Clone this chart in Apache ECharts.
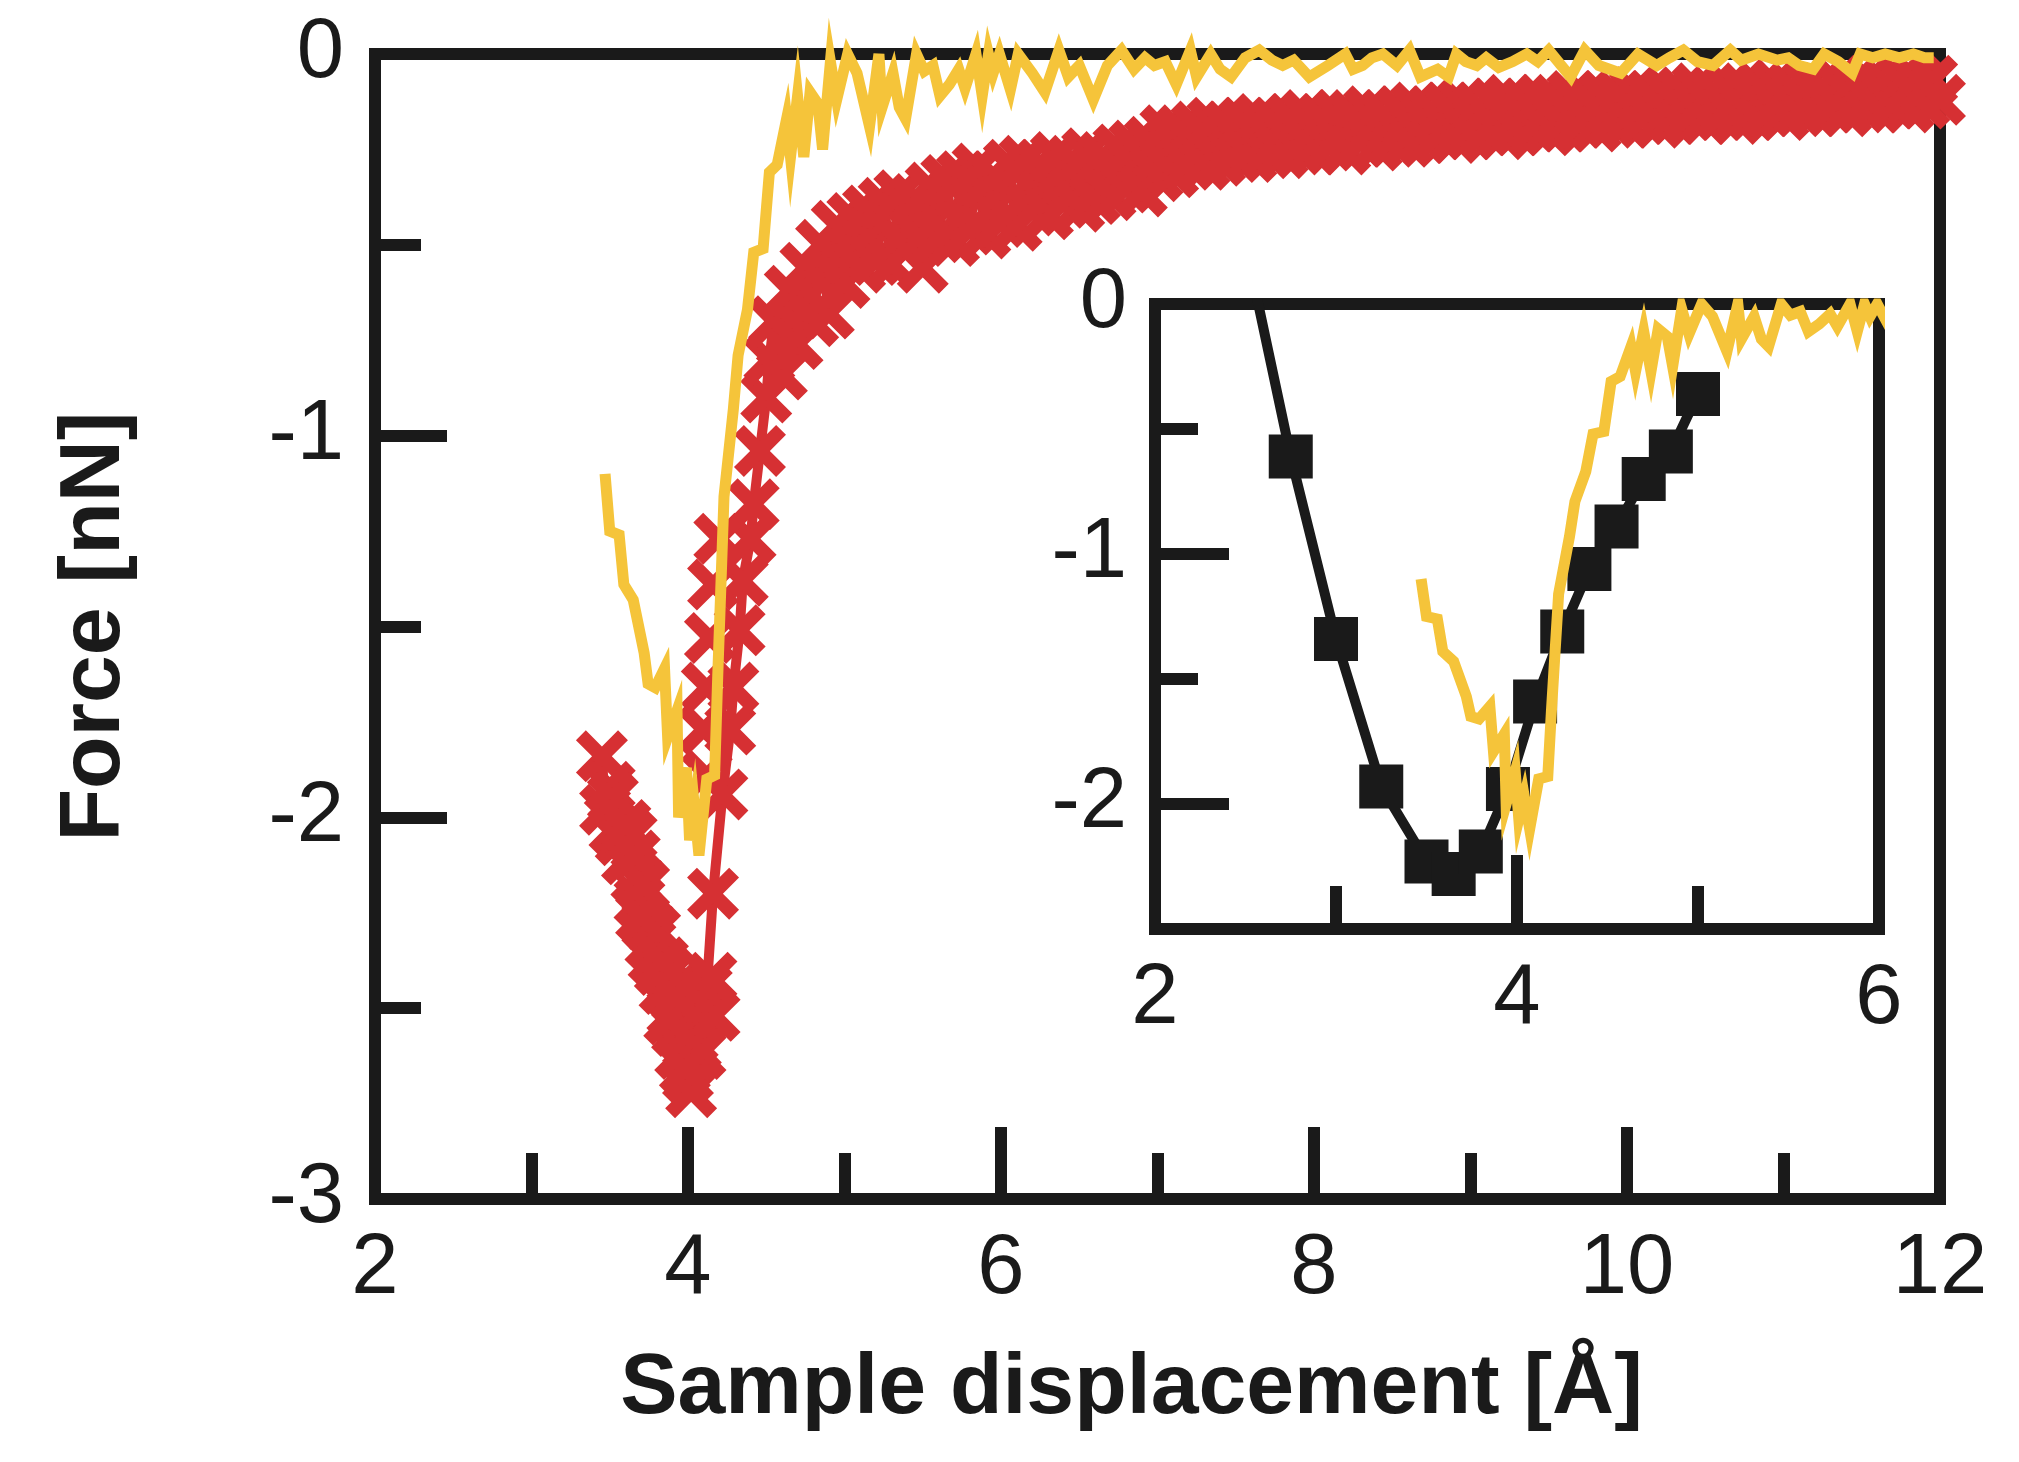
<!DOCTYPE html>
<html>
<head>
<meta charset="utf-8">
<script src="https://cdn.jsdelivr.net/npm/echarts@6/dist/echarts.min.js"></script>
<style>
  html, body { margin: 0; padding: 0; background: #fff; }
  #main { width: 2019px; height: 1462px; }
</style>
</head>
<body>
<div id="main"></div>
<script>
// yellow trace (shared by the main plot and the inset)
const yellow = [
  [3.47,-1.10],[3.50,-1.25],[3.56,-1.26],[3.59,-1.39],[3.65,-1.43],[3.72,-1.57],[3.745,-1.65],
  [3.79,-1.66],[3.85,-1.61],[3.87,-1.79],[3.93,-1.72],[3.94,-2.00],[3.99,-1.87],[4.01,-2.06],
  [4.04,-1.97],[4.07,-2.10],[4.12,-1.90],[4.17,-1.89],[4.19,-1.63],[4.23,-1.16],[4.29,-0.93],
  [4.32,-0.79],[4.38,-0.67],[4.42,-0.52],[4.48,-0.51],[4.52,-0.31],[4.57,-0.29],[4.63,-0.17],
  [4.655,-0.27],[4.70,-0.11],[4.74,-0.27],[4.78,-0.10],[4.83,-0.13],[4.86,-0.25],[4.91,-0.02],
  [4.95,-0.12],[5.02,0.0],[5.08,-0.05],[5.16,-0.19],[5.22,0.0],[5.24,-0.14],[5.31,-0.05],
  [5.35,-0.14],[5.39,-0.17],[5.46,0.0],[5.51,-0.045],[5.565,-0.03],[5.61,-0.11],[5.67,-0.08],
  [5.73,-0.04],[5.77,-0.09],[5.84,0.0],[5.88,-0.11],[5.92,0.0],[5.95,-0.05],[5.99,0.0],
  [6.06,-0.094],[6.11,0.0],[6.20,-0.05],[6.28,-0.10],[6.37,0.01],[6.43,-0.06],[6.50,-0.03],
  [6.59,-0.12],[6.68,-0.03],[6.77,0.01],[6.85,-0.04],[6.92,-0.01],[6.98,-0.03],[7.05,-0.02],
  [7.12,-0.08],[7.21,0.01],[7.25,-0.06],[7.34,0.0],[7.40,-0.04],[7.47,-0.06],[7.56,-0.01],
  [7.65,0.01],[7.73,-0.016],[7.80,-0.03],[7.87,-0.016],[7.97,-0.06],[8.09,-0.03],[8.20,0.0],
  [8.25,-0.04],[8.31,-0.03],[8.37,-0.01],[8.44,0.0],[8.53,-0.03],[8.61,0.01],[8.68,-0.06],
  [8.79,-0.04],[8.86,-0.06],[8.91,0.0],[8.97,-0.02],[9.04,-0.03],[9.10,-0.01],[9.18,-0.035],
  [9.27,-0.02],[9.36,0.0],[9.43,-0.02],[9.50,0.01],[9.64,-0.06],[9.73,0.01],[9.82,-0.03],
  [9.96,-0.05],[10.07,0.0],[10.19,-0.03],[10.27,-0.01],[10.36,0.01],[10.45,-0.02],[10.55,-0.03],
  [10.66,0.01],[10.73,-0.016],[10.84,0.0],[10.96,-0.016],[11.03,-0.01],[11.10,-0.03],
  [11.19,-0.04],[11.26,0.0],[11.35,-0.02],[11.44,-0.05],[11.49,0.0],[11.57,-0.01],[11.65,0.0],
  [11.74,-0.01],[11.83,0.0],[11.90,-0.01],[11.96,-0.01]
];

// red trace: descending cluster, steep rise, then the noisy tail
const redCurve = [
  [3.45,-1.84],[3.47,-1.98],[3.50,-1.92],[3.53,-2.03],[3.57,-2.06],[3.61,-2.11],[3.64,-2.05],
  [3.67,-2.16],[3.69,-2.22],[3.72,-2.18],[3.74,-2.28],[3.76,-2.33],[3.79,-2.30],[3.82,-2.40],
  [3.85,-2.45],[3.88,-2.41],[3.90,-2.51],[3.93,-2.56],[3.95,-2.62],[3.97,-2.55],[4.00,-2.68],
  [4.02,-2.72],[4.05,-2.60],[4.08,-2.53],[4.12,-2.45],[4.16,-2.20],[4.22,-1.94],[4.27,-1.77],
  [4.29,-1.66],[4.33,-1.51],[4.35,-1.38],[4.40,-1.27],[4.42,-1.18],[4.46,-1.04],[4.50,-0.90],
  [4.52,-0.80],
  [4.55,-0.70],[4.60,-0.84],[4.65,-0.62],[4.70,-0.76],[4.75,-0.56],[4.80,-0.70],[4.85,-0.50],
  [4.90,-0.68],[4.95,-0.45],[5.00,-0.60],[5.05,-0.43],[5.10,-0.56],[5.15,-0.41],[5.20,-0.54],
  [5.25,-0.39],[5.30,-0.55],[5.35,-0.37],[5.40,-0.51],[5.45,-0.38],[5.50,-0.56],[5.55,-0.35],
  [5.60,-0.48],[5.65,-0.33],[5.70,-0.49],[5.75,-0.32],[5.80,-0.46],[5.85,-0.30],[5.90,-0.47],
  [5.95,-0.32],[6.00,-0.44],[6.05,-0.29],[6.10,-0.45],[6.15,-0.28],[6.20,-0.41],[6.25,-0.29],
  [6.30,-0.42],[6.35,-0.27],[6.40,-0.39],[6.45,-0.28],[6.50,-0.40],[6.55,-0.26],[6.60,-0.38],
  [6.65,-0.27],[6.70,-0.37],[6.75,-0.25],[6.80,-0.35],[6.85,-0.24],[6.90,-0.36],[6.95,-0.23],
  [7.00,-0.32],[7.05,-0.20],[7.10,-0.31],[7.15,-0.20],[7.20,-0.29],[7.25,-0.19],[7.30,-0.29],
  [7.35,-0.18],[7.40,-0.28],[7.45,-0.19],[7.50,-0.27],[7.55,-0.18],[7.60,-0.27],[7.65,-0.17],
  [7.70,-0.26],[7.75,-0.18],[7.80,-0.26],[7.85,-0.17],[7.90,-0.25],[7.95,-0.16],[8.00,-0.25],
  [8.05,-0.17],[8.10,-0.24],[8.15,-0.16],[8.20,-0.25],[8.25,-0.16],[8.30,-0.23],[8.35,-0.15],
  [8.40,-0.24],[8.45,-0.16],[8.50,-0.23],[8.55,-0.15],[8.60,-0.23],[8.65,-0.14],[8.70,-0.22],
  [8.75,-0.15],[8.80,-0.21],[8.85,-0.14],[8.90,-0.22],[8.95,-0.13],[9.00,-0.21],[9.05,-0.14],
  [9.10,-0.20],[9.15,-0.13],[9.20,-0.21],[9.25,-0.12],[9.30,-0.20],[9.35,-0.13],[9.40,-0.19],
  [9.45,-0.12],[9.50,-0.20],[9.55,-0.12],[9.60,-0.19],[9.65,-0.11],[9.70,-0.18],[9.75,-0.12],
  [9.80,-0.19],[9.85,-0.11],[9.90,-0.18],[9.95,-0.11],[10.00,-0.18],[10.05,-0.10],[10.10,-0.17],
  [10.15,-0.11],[10.20,-0.18],[10.25,-0.10],[10.30,-0.17],[10.35,-0.10],[10.40,-0.16],
  [10.45,-0.09],[10.50,-0.17],[10.55,-0.10],[10.60,-0.16],[10.65,-0.09],[10.70,-0.17],
  [10.75,-0.09],[10.80,-0.16],[10.85,-0.09],[10.90,-0.15],[10.95,-0.08],[11.00,-0.16],
  [11.05,-0.09],[11.10,-0.15],[11.15,-0.08],[11.20,-0.15],[11.25,-0.09],[11.30,-0.14],
  [11.35,-0.08],[11.40,-0.15],[11.45,-0.08],[11.50,-0.14],[11.55,-0.07],[11.60,-0.14],
  [11.65,-0.08],[11.70,-0.13],[11.75,-0.07],[11.80,-0.14],[11.85,-0.07],[11.90,-0.13],
  [11.95,-0.07],[12.00,-0.12]
];

// stray red crosses beside the steep rise and in the cluster
const redStray = [
  [4.12,-1.89],[4.10,-1.77],[4.12,-1.66],[4.14,-1.53],[4.16,-1.39],[4.20,-1.27],
  [4.15,-2.42],[4.17,-2.52],[4.08,-2.62],[4.03,-2.58],[3.98,-2.66],
  [3.52,-1.95],[3.60,-2.02],[3.66,-2.10],[3.70,-2.26],[3.78,-2.37],[3.84,-2.38],
  [3.88,-2.53],[3.92,-2.47]
];

// inset: black squares and the line through them
const squares = [
  [2.75,-0.61],[3.00,-1.34],[3.25,-1.93],[3.50,-2.23],[3.65,-2.28],[3.80,-2.19],[3.95,-1.94],
  [4.10,-1.59],[4.25,-1.31],[4.40,-1.06],[4.55,-0.89],[4.70,-0.70],[4.85,-0.59],[5.00,-0.36]
];
const blackLineStart = [[2.5,0.24]];

const mainXTicks = { min: 2, max: 12, step: 2 };
const mainYTicks = { min: -3, max: 0, step: 1 };
const insetXTicks = { min: 2, max: 6, step: 2 };
const insetYLabels = [0, -1, -2];
const insetYMinor = [-0.5, -1.5];

const K = '#1a1a1a';
const YEL = '#f5c43a';
const RED = '#d63033';
const FONT = "'Liberation Sans', Arial, Helvetica, sans-serif";
const CROSS = 'path://M0,19 L19,0 L50,31 L81,0 L100,19 L69,50 L100,81 L81,100 L50,69 L19,100 L0,81 L31,50 Z';

const lbl = (margin) => ({
  show: true, margin: margin, fontSize: 85, color: K, fontFamily: FONT,
  showMinLabel: true, showMaxLabel: true
});
const line12 = { color: K, width: 12, cap: 'square' };

var chartDom = document.getElementById('main');
var myChart = echarts.init(chartDom, null, { renderer: 'canvas' });

var option = {
  animation: false,
  backgroundColor: '#ffffff',
  grid: [
    { left: 375, top: 54, width: 1565, height: 1145, show: true, borderWidth: 12, borderColor: K,
      containLabel: false, outerBoundsMode: 'none' },
    { left: 1155, top: 304, width: 724, height: 625, show: true, borderWidth: 12, borderColor: K,
      backgroundColor: '#ffffff', containLabel: false, outerBoundsMode: 'none' }
  ],
  xAxis: [
    {
      gridIndex: 0, type: 'value', min: mainXTicks.min, max: mainXTicks.max, interval: mainXTicks.step,
      axisLine: { show: true, onZero: false, lineStyle: line12 },
      axisTick: { show: true, inside: true, length: 72, lineStyle: { color: K, width: 12 } },
      minorTick: { show: true, splitNumber: 2, length: 46, lineStyle: { color: K, width: 12 } },
      splitLine: { show: false }, minorSplitLine: { show: false },
      axisLabel: lbl(28),
      name: 'Sample displacement [Å]', nameLocation: 'middle', nameGap: 147, nameMoveOverlap: false,
      nameTextStyle: { fontSize: 86, fontWeight: 'bold', color: K, fontFamily: FONT, padding: [0, 52, 0, 0] }
    },
    {
      gridIndex: 1, type: 'value', min: insetXTicks.min, max: insetXTicks.max, interval: insetXTicks.step,
      axisLine: { show: true, onZero: false, lineStyle: line12 },
      axisTick: { show: true, inside: true, length: 74, lineStyle: { color: K, width: 12 } },
      minorTick: { show: true, splitNumber: 2, length: 43, lineStyle: { color: K, width: 12 } },
      splitLine: { show: false }, minorSplitLine: { show: false },
      axisLabel: lbl(28)
    }
  ],
  yAxis: [
    {
      gridIndex: 0, type: 'value', position: 'left', min: mainYTicks.min, max: mainYTicks.max, interval: mainYTicks.step,
      axisLine: { show: true, onZero: false, lineStyle: line12 },
      axisTick: { show: true, inside: true, length: 72, lineStyle: { color: K, width: 12 } },
      minorTick: { show: true, splitNumber: 2, length: 46, lineStyle: { color: K, width: 12 } },
      splitLine: { show: false }, minorSplitLine: { show: false },
      axisLabel: lbl(31),
      name: 'Force [nN]', nameLocation: 'middle', nameRotate: 90, nameGap: 237, nameMoveOverlap: false,
      nameTextStyle: { fontSize: 86, fontWeight: 'bold', color: K, fontFamily: FONT }
    },
    {
      gridIndex: 1, type: 'value', position: 'left', offset: 0, min: -2.5, max: 0,
      axisLine: { show: true, onZero: false, lineStyle: line12 },
      axisTick: { show: true, inside: true, length: 74, customValues: insetYLabels, lineStyle: { color: K, width: 12 } },
      splitLine: { show: false },
      axisLabel: Object.assign(lbl(28), { customValues: insetYLabels })
    },
    {
      gridIndex: 1, type: 'value', position: 'left', offset: 0, min: -2.5, max: 0,
      axisLine: { show: false },
      axisTick: { show: true, inside: true, length: 43, customValues: insetYMinor, lineStyle: { color: K, width: 12 } },
      splitLine: { show: false },
      axisLabel: { show: false }
    }
  ],
  series: [
    {
      name: 'red', type: 'line', xAxisIndex: 0, yAxisIndex: 0, data: redCurve, clip: false,
      showAllSymbol: true, symbol: CROSS, symbolSize: 52,
      lineStyle: { color: RED, width: 10 }, itemStyle: { color: RED, opacity: 1 }, z: 3
    },
    {
      name: 'redStray', type: 'scatter', xAxisIndex: 0, yAxisIndex: 0, data: redStray, clip: false,
      symbol: CROSS, symbolSize: 52, itemStyle: { color: RED, opacity: 1 }, z: 3
    },
    {
      name: 'yellow', type: 'line', xAxisIndex: 0, yAxisIndex: 0, data: yellow, clip: false,
      symbol: 'none', lineStyle: { color: YEL, width: 11, join: 'miter' }, z: 5
    },
    {
      name: 'fitLine', type: 'line', xAxisIndex: 1, yAxisIndex: 1, data: blackLineStart.concat(squares),
      clip: true, symbol: 'none', lineStyle: { color: K, width: 10 }, z: 3
    },
    {
      name: 'squares', type: 'scatter', xAxisIndex: 1, yAxisIndex: 1, data: squares,
      symbol: 'rect', symbolSize: 44, itemStyle: { color: K, opacity: 1 }, z: 4
    },
    {
      name: 'yellowInset', type: 'line', xAxisIndex: 1, yAxisIndex: 1, data: yellow, clip: true,
      symbol: 'none', lineStyle: { color: YEL, width: 11, join: 'miter' }, z: 5
    }
  ]
};

myChart.setOption(option);
</script>
</body>
</html>
